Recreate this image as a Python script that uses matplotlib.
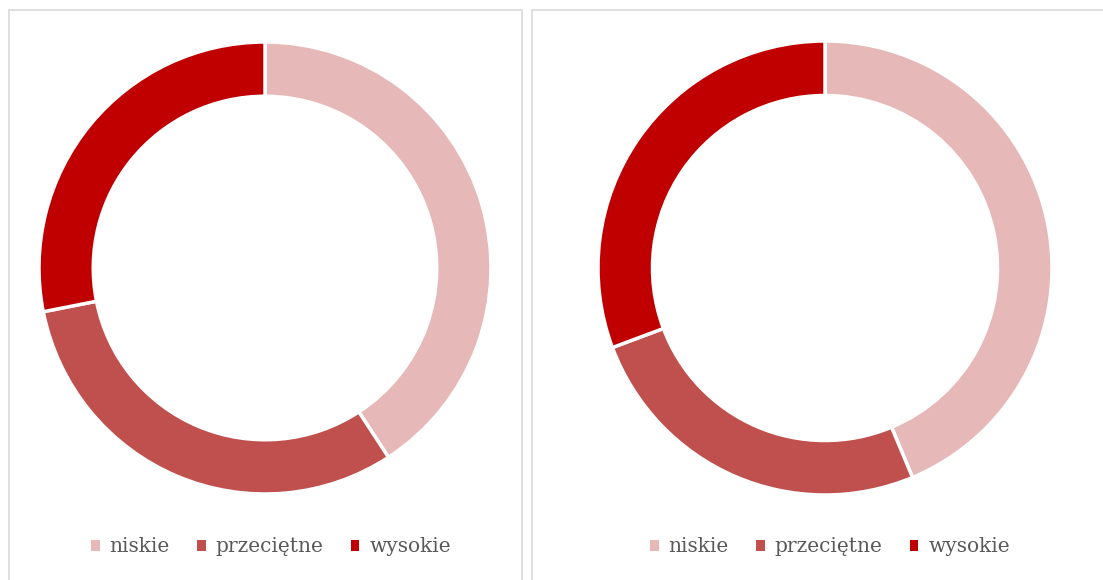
import matplotlib
matplotlib.use("Agg")
import matplotlib.pyplot as plt
from matplotlib.patches import Rectangle, Patch

categories = ["niskie", "przeciętne", "wysokie"]
left_values = [40.8, 31.1, 28.1]
right_values = [43.7, 25.6, 30.7]
colors = ["#E6B8B7", "#C0504D", "#C00000"]

W, H = 1103, 580
fig = plt.figure(figsize=(W / 100, H / 100), dpi=100)
fig.patch.set_facecolor("white")

def px_rect(x0, y0, x1, y1):
    return [x0 / W, 1 - y1 / H, (x1 - x0) / W, (y1 - y0) / H]

# panel borders
for (x0, x1) in [(9, 522), (532, 1110)]:
    r = Rectangle((x0 / W, -0.05), (x1 - x0) / W, 1 - 9.5 / H + 0.05,
                  transform=fig.transFigure, fill=False,
                  edgecolor="#D9D9D9", linewidth=1.2)
    fig.add_artist(r)

def donut(cx, cy, r, values):
    ax = fig.add_axes(px_rect(cx - r, cy - r, cx + r, cy + r))
    ax.pie(values, colors=colors, startangle=90, counterclock=False,
           radius=1, wedgeprops=dict(width=0.24, edgecolor="white", linewidth=2.5))
    ax.set_xlim(-1.0, 1.0)
    ax.set_ylim(-1.0, 1.0)
    ax.set_aspect("equal")
    ax.axis("off")

donut(265, 268, 226, left_values)
donut(825, 268, 227, right_values)

handles = [Patch(facecolor=c, edgecolor="none") for c in colors]
for cx in (271, 830):
    fig.legend(handles, categories, loc="center", bbox_to_anchor=(cx / W, 1 - 547 / H),
               ncol=3, frameon=False, handlelength=0.42, handleheight=0.42,
               handletextpad=0.5, columnspacing=1.35,
               prop=dict(family="DejaVu Serif", size=14.5), labelcolor="#595959")

fig.savefig("out.png", dpi=100, facecolor="white")
